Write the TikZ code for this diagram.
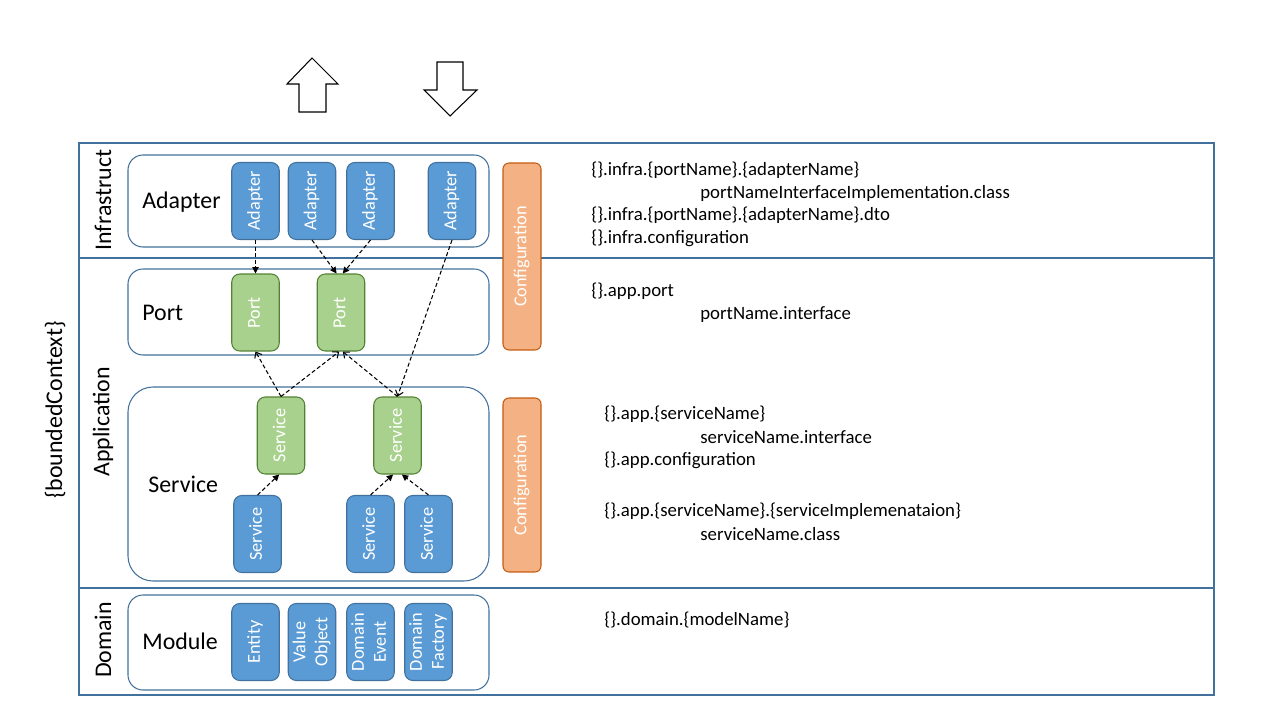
\documentclass[tikz,border=0pt]{standalone}
\usepackage{fontspec}
\setmainfont{Carlito}
\usepackage{graphicx}
\usetikzlibrary{arrows.meta, positioning}
\definecolor{frame}{RGB}{65,113,156}
\definecolor{bluefill}{RGB}{91,155,213}
\definecolor{blueline}{RGB}{65,113,156}
\definecolor{greenfill}{RGB}{169,209,142}
\definecolor{greenline}{RGB}{84,130,53}
\definecolor{conffill}{RGB}{244,177,131}
\definecolor{confline}{RGB}{197,90,17}
\newcommand{\vlabel}[1]{\rotatebox{90}{\begin{tabular}{@{}c@{}}#1\end{tabular}}}
\tikzset{
    layer/.style = {draw=frame, line width=0.6pt},
    group/.style = {draw=frame, line width=0.6pt, fill=white, rounded corners=0.3cm},
    bigtext/.style = {font=\fontsize{13.6}{16}\selectfont, inner sep=0pt},
    pathtext/.style = {font=\fontsize{10.7}{13}\selectfont, anchor=base west, inner sep=0pt},
    unit/.style = {rounded corners=0.16cm, line width=0.6pt, minimum width=0.95cm,
        minimum height=1.54cm, inner sep=0pt, text=white, font=\fontsize{10.4}{12.4}\selectfont},
    blue unit/.style = {unit, draw=blueline, fill=bluefill},
    green unit/.style = {unit, draw=greenline, fill=greenfill},
    config/.style = {unit, draw=confline, fill=conffill, minimum width=0.76cm, rounded corners=0.12cm},
    uses/.style = {line width=0.6pt, dash pattern=on 2.3pt off 1.4pt, -{Triangle[length=3.6pt,width=3.6pt]}},
    impl/.style = {line width=0.6pt, dash pattern=on 2.3pt off 1.4pt, -{Straight Barb[length=2.8pt,width=4.6pt]}},
    block/.style = {draw=black, line width=0.6pt, fill=white}
}

\begin{document}
\begin{tikzpicture}[x=0.02cm, y=-0.02cm]
\useasboundingbox (0,0) rectangle (1280,720);

%in / out
\draw[block] (299,112) -- (299,84) -- (287,84) -- (312,58) -- (338,84) -- (326,84) -- (326,112) -- cycle;
\draw[block] (437,62) -- (463,62) -- (463,90) -- (477,90) -- (450,116) -- (424,90) -- (437,90) -- cycle;

%layers
\draw[layer] (79,143) rectangle (1214,258);
\draw[layer] (79,258) rectangle (1214,588);
\draw[layer] (79,588) rectangle (1214,695);
\node[bigtext, rotate=90] (infra) at (103,200) {Infrastruct};
\node[bigtext, rotate=90] (app) at (103,422) {Application};
\node[bigtext, rotate=90] (domain) at (103,640) {Domain};
\node[bigtext, rotate=90] (context) at (55,410) {\{boundedContext\}};

%groups
\draw[group] (128,155) rectangle (489,247);
\draw[group] (128,269) rectangle (489,355);
\draw[group, rounded corners=0.5cm] (128,387) rectangle (489,581);
\draw[group] (128,595) rectangle (489,690);
\node[bigtext, anchor=base west] (adapterlbl) at (142,208) {Adapter};
\node[bigtext, anchor=base west] (portlbl) at (142,320) {Port};
\node[bigtext, anchor=base west] (servicelbl) at (148,492) {Service};
\node[bigtext, anchor=base west] (modulelbl) at (142,649) {Module};

%adapters
\node[blue unit] (a1) at (255.5,201) {\vlabel{Adapter}};
\node[blue unit] (a2) at (312,201) {\vlabel{Adapter}};
\node[blue unit] (a3) at (370.5,201) {\vlabel{Adapter}};
\node[blue unit] (a4) at (452,201) {\vlabel{Adapter}};

%ports
\node[green unit] (p1) at (255.5,312.5) {\vlabel{Port}};
\node[green unit] (p2) at (341,312.5) {\vlabel{Port}};

%services
\node[green unit] (s1) at (281,435.5) {\vlabel{Service}};
\node[green unit] (s2) at (397.5,435.5) {\vlabel{Service}};
\node[blue unit] (b1) at (257.5,534) {\vlabel{Service}};
\node[blue unit] (b2) at (370.5,534) {\vlabel{Service}};
\node[blue unit] (b3) at (428.5,534) {\vlabel{Service}};

%domain
\node[blue unit] (d1) at (255.5,642) {\vlabel{Entity}};
\node[blue unit] (d2) at (312,642) {\vlabel{Value\\Object}};
\node[blue unit] (d3) at (370.5,642) {\vlabel{Domain\\Event}};
\node[blue unit] (d4) at (428.5,642) {\vlabel{Domain\\Factory}};

%configuration
\node[config, minimum height=3.74cm] (c1) at (522,256.5) {\vlabel{Configuration}};
\node[config, minimum height=3.48cm] (c2) at (522,485) {\vlabel{Configuration}};

%arrows
\draw[uses] (a1.south) -- (p1.north);
\draw[uses] (a2.south) -- ([xshift=-2.5pt]p2.north);
\draw[uses] (a3.south) -- ([xshift=1pt]p2.north);
\draw[impl] (a4.south) -- (s2.north);
\draw[impl] (s1.north) -- (p1.south);
\draw[impl] (s1.north) -- ([xshift=-1pt]p2.south);
\draw[impl] (s2.north) -- ([xshift=1pt]p2.south);
\draw[uses] (b1.north) -- ([xshift=-1pt]s1.south);
\draw[uses] (b2.north) -- ([xshift=-2.5pt]s2.south);
\draw[uses] (b3.north) -- ([xshift=2.5pt]s2.south);

%packages
\node[pathtext] (t1) at (591,175) {\{\}.infra.\{portName\}.\{adapterName\}};
\node[pathtext] (t2) at (700,198) {portNameInterfaceImplementation.class};
\node[pathtext] (t3) at (591,220) {\{\}.infra.\{portName\}.\{adapterName\}.dto};
\node[pathtext] (t4) at (591,243) {\{\}.infra.configuration};
\node[pathtext] (t5) at (591,296) {\{\}.app.port};
\node[pathtext] (t6) at (700,319) {portName.interface};
\node[pathtext] (t7) at (604,419) {\{\}.app.\{serviceName\}};
\node[pathtext] (t8) at (700,443) {serviceName.interface};
\node[pathtext] (t9) at (604,465) {\{\}.app.configuration};
\node[pathtext] (t10) at (604,516) {\{\}.app.\{serviceName\}.\{serviceImplemenataion\}};
\node[pathtext] (t11) at (700,540) {serviceName.class};
\node[pathtext] (t12) at (604,625) {\{\}.domain.\{modelName\}};
\end{tikzpicture}
\end{document}
